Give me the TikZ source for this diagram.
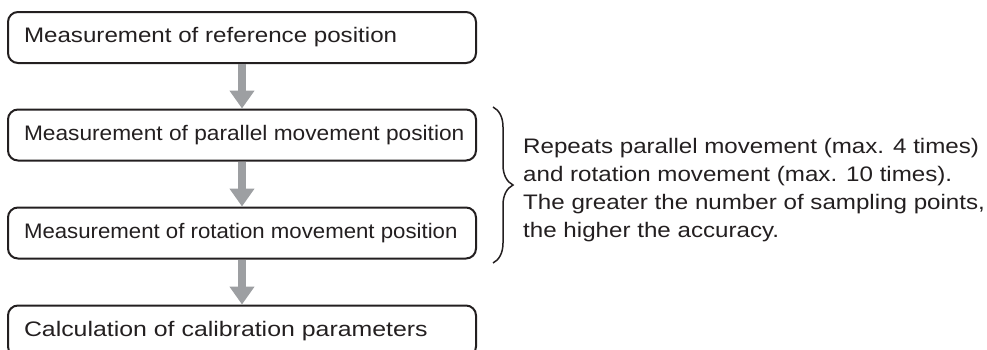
\documentclass[tikz,border=0pt]{standalone}
\usepackage{graphicx}
\usepackage{fontspec}
\setmainfont{Liberation Sans}[FakeStretch=1.15]
\usetikzlibrary{arrows.meta,decorations.pathreplacing}
\definecolor{ink}{RGB}{35,31,32}
\definecolor{arrowgray}{RGB}{157,159,162}
\newcommand{\boxtxt}[2][1]{\makebox[436pt][l]{\scalebox{#1}[1]{#2}}}
\begin{document}
\begin{tikzpicture}[x=1pt,y=-1pt,
  stepbox/.style={draw=ink, line width=2pt, rounded corners=10pt,
    minimum width=468pt, minimum height=51pt, inner xsep=16pt, inner ysep=0pt,
    text=ink, font=\fontsize{21}{28}\selectfont},
  flow/.style={draw=arrowgray, line width=7.5pt,
    -{Triangle[width=24pt,length=18pt]}},
  note/.style={text=ink, align=left, inner sep=0pt, anchor=base west,
    font=\fontsize{21}{28}\selectfont}]
\clip (0,0) rectangle (987,349);
\node[stepbox] (b1) at (242,37.5) {\boxtxt{Measurement of reference position}};
\node[stepbox] (b2) at (242,135) {\boxtxt[0.94]{Measurement of parallel movement position}};
\node[stepbox] (b3) at (242,233) {\boxtxt[0.92]{Measurement of rotation movement position}};
\node[stepbox] (b4) at (242,331) {\boxtxt[1.03]{Calculation of calibration parameters}};
\draw[flow] (b1.south) -- (b2.north);
\draw[flow] (b2.south) -- (b3.north);
\draw[flow] (b3.south) -- (b4.north);
\coordinate (bt) at (493,107);
\coordinate (bb) at (493,263);
\draw[ink, line width=1.5pt, decorate, decoration={brace, amplitude=20pt}] (bt) -- (bb);
\node[note] (txt) at (523,237) {Repeats parallel movement (max. 4 times)\\and rotation movement (max. 10 times).\\The greater the number of sampling points,\\the higher the accuracy.};
\end{tikzpicture}
\end{document}
